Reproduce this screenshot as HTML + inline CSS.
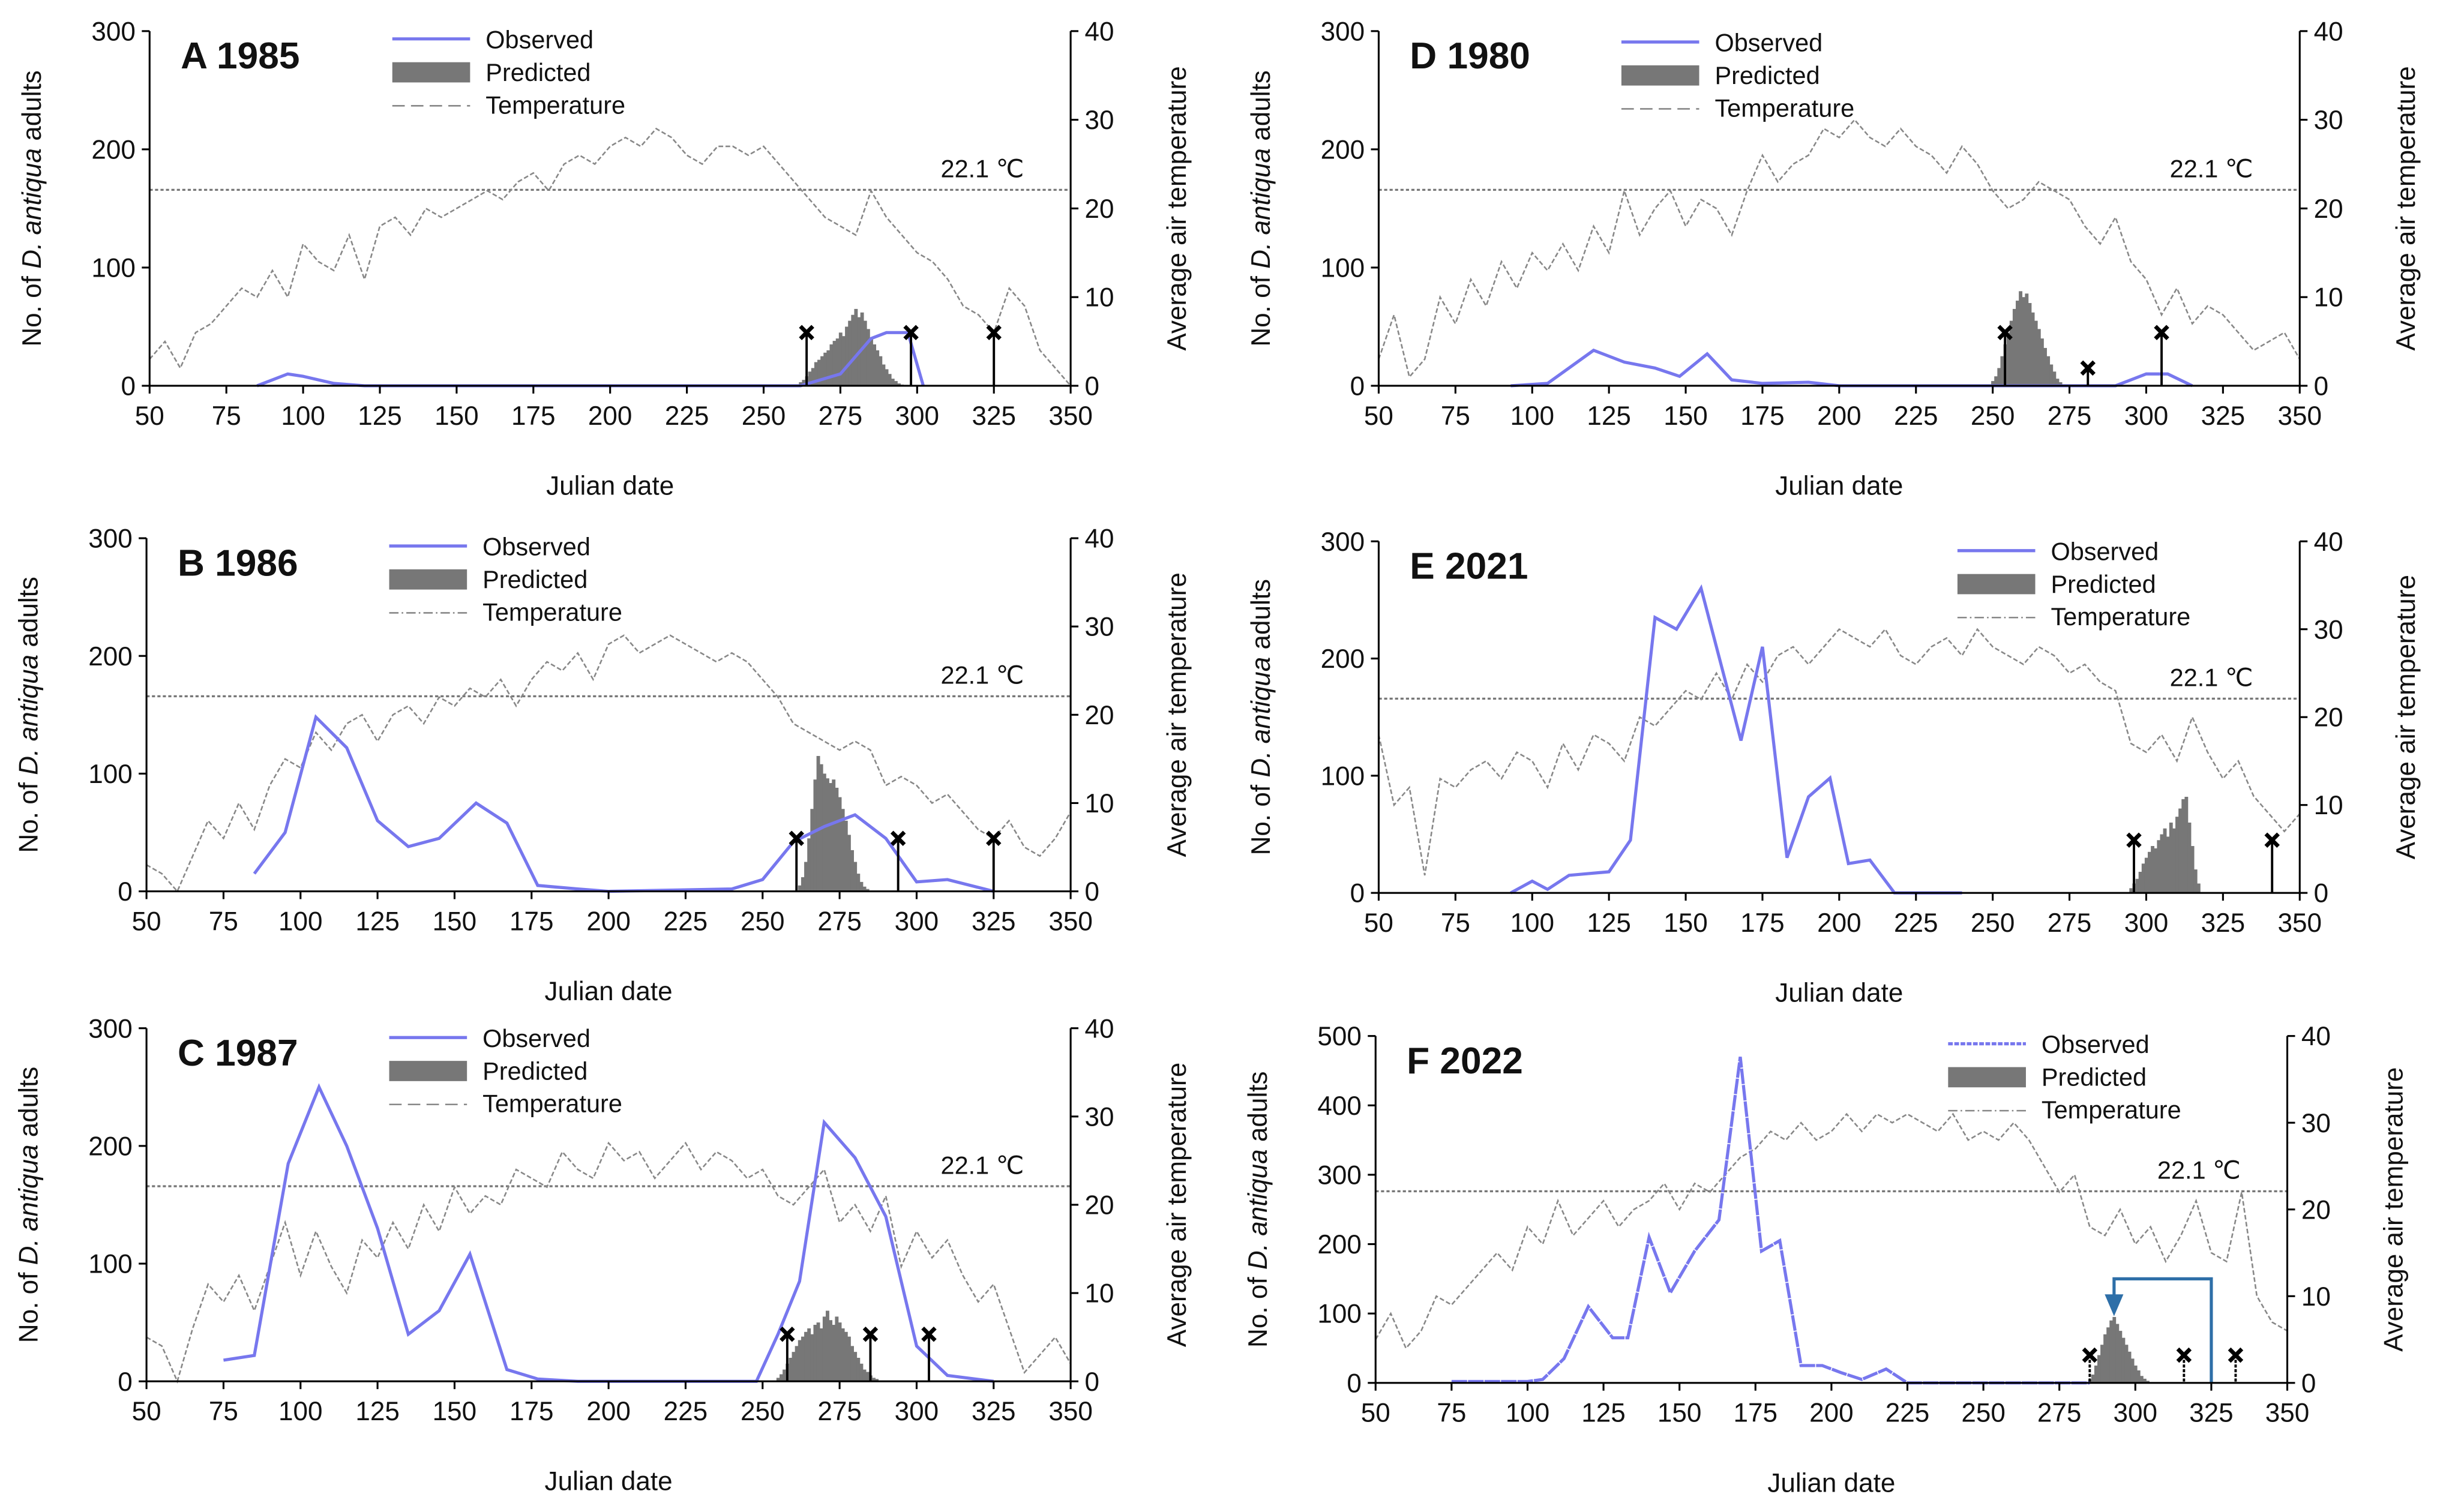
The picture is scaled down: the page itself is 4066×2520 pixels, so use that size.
<!DOCTYPE html>
<html><head><meta charset="utf-8"><style>
html,body{margin:0;padding:0;background:#fff}
svg{display:block}
text{font-family:"Liberation Sans",sans-serif;fill:#111}
</style></head><body>
<svg id="chart" xmlns="http://www.w3.org/2000/svg" width="4066" height="2520" viewBox="0 0 1568 972"></svg>
<script>
// ---------- DATA ----------
const tempDaysStart = 50, tempDayStep = 5;
const tempA = [3,5,2,6,7,9,11,10,13,10,16,14,13,17,12,18,19,17,20,19,20,21,22,21,23,24,22,25,26,25,27,28,27,29,28,26,25,27,27,26,27,25,23,21,19,18,17,22,19,17,15,14,12,9,8,6,11,9,4,2,0];
const tempD = [3,8,1,3,10,7,12,9,14,11,15,13,16,13,18,15,22,17,20,22,18,21,20,17,22,26,23,25,26,29,28,30,28,27,29,27,26,24,27,25,22,20,21,23,22,21,18,16,19,14,12,8,11,7,9,8,6,4,5,6,3];
const tempB = [3,2,0,4,8,6,10,7,12,15,14,18,16,19,20,17,20,21,19,22,21,23,22,24,21,24,26,25,27,24,28,29,27,28,29,28,27,26,27,26,24,22,19,18,17,16,17,16,12,13,12,10,11,9,7,6,8,5,4,6,9];
const tempE = [18,10,12,2,13,12,14,15,13,16,15,12,17,14,18,17,15,20,19,21,23,22,25,22,26,24,27,28,26,28,30,29,28,30,27,26,28,29,27,30,28,27,26,28,27,25,26,24,23,17,16,18,15,20,16,13,15,11,9,7,9];
const tempC = [5,4,0,6,11,9,12,8,13,18,12,17,13,10,16,14,18,15,20,17,22,19,21,20,24,23,22,26,24,23,27,25,26,23,25,27,24,26,25,23,24,21,20,22,24,18,20,17,21,13,17,14,16,12,9,11,6,1,3,5,2];
const tempF = [5,8,4,6,10,9,11,13,15,13,18,16,21,17,19,21,18,20,21,23,20,23,22,24,26,27,29,28,30,28,29,31,29,31,30,31,30,29,31,28,29,28,30,28,25,22,24,18,17,20,16,18,14,17,21,15,14,22,10,7,6];

const obsDaysA = [85,95,100,110,120,200,262,275,285,290,297,302];
const obsA     = [0,10,8,2,0,0,0,10,40,45,45,0];
const obsDaysD = [93,105,120,130,140,148,157,165,175,190,200,290,300,307,315];
const obsD     = [0,2,30,20,15,8,27,5,2,3,0,0,10,10,0];
const obsDaysB = [85,95,105,115,125,135,145,157,167,177,190,200,240,250,260,270,280,290,300,310,325];
const obsB     = [15,50,148,122,60,38,45,75,58,5,2,0,2,10,42,55,65,45,8,10,0];
const obsDaysE = [93,100,105,112,125,132,140,147,155,168,175,183,190,197,203,210,218,240];
const obsE     = [0,10,3,15,18,45,235,225,260,130,210,30,82,98,25,28,0,0];
const obsDaysC = [75,85,96,106,115,125,135,145,155,167,177,190,248,255,262,270,280,290,300,310,325];
const obsC     = [18,22,185,250,200,130,40,60,108,10,2,0,0,40,85,220,190,140,30,5,0];
const obsDaysF = [75,100,105,112,120,128,133,140,147,155,163,170,177,183,190,197,203,210,218,225,285];
const obsF     = [2,2,5,35,110,65,65,210,130,190,235,470,190,205,25,25,15,5,20,0,0];

const predStartA = 262;
const predA = [3,5,8,12,15,20,22,25,28,30,35,38,40,45,42,50,55,60,65,58,62,55,48,40,35,30,25,18,14,10,6,4,2,1];
const predStartD = 250;
const predD = [4,8,15,25,35,45,55,65,72,80,75,78,70,62,55,48,40,32,25,18,12,6,3];
const predStartB = 262;
const predB = [5,12,25,45,70,95,115,108,100,96,92,95,88,80,70,60,48,35,25,15,8,4,2];
const predStartE = 295;
const predE = [4,8,12,18,25,30,35,40,38,45,50,55,48,60,55,65,72,80,82,60,40,20,8];
const predStartC = 255;
const predC = [3,6,10,15,20,25,30,35,38,42,45,40,48,50,45,55,60,52,48,55,50,45,42,38,30,25,20,15,10,8,5,3,2];
const predStartF = 285;
const predF = [5,12,25,40,55,70,80,90,95,85,75,65,55,45,35,25,18,10,6,3];

const markDaysA=[264,298,325], markA=[45,45,45];
const markDaysD=[254,281,305], markD=[45,15,45];
const markDaysB=[261,294,325], markB=[45,45,45];
const markDaysE=[296,341], markE=[45,45];
const markDaysC=[258,285,304], markC=[40,40,40];
const markDaysF=[285,316,333], markF=[40,40,40];

const xTicks=[50,75,100,125,150,175,200,225,250,275,300,325,350];
const yTicks300=[0,100,200,300], yTicks500=[0,100,200,300,400,500];
const rTicks=[0,10,20,30,40];
const threshold=22.1;

// ---------- LAYOUT ----------
const panels=[
 {id:'a',title:'A 1985',x0:96,x1:688,yb:248,yt:20,ymax:300,yt_:yTicks300,temp:tempA,od:obsDaysA,ov:obsA,ps:predStartA,pv:predA,md:markDaysA,mv:markA,lx:252,ly:25,dashTemp:true},
 {id:'d',title:'D 1980',x0:886,x1:1478,yb:248,yt:20,ymax:300,yt_:yTicks300,temp:tempD,od:obsDaysD,ov:obsD,ps:predStartD,pv:predD,md:markDaysD,mv:markD,lx:1042,ly:27,dashTemp:true},
 {id:'b',title:'B 1986',x0:94,x1:688,yb:573,yt:346,ymax:300,yt_:yTicks300,temp:tempB,od:obsDaysB,ov:obsB,ps:predStartB,pv:predB,md:markDaysB,mv:markB,lx:250,ly:351},
 {id:'e',title:'E 2021',x0:886,x1:1478,yb:574,yt:348,ymax:300,yt_:yTicks300,temp:tempE,od:obsDaysE,ov:obsE,ps:predStartE,pv:predE,md:markDaysE,mv:markE,lx:1258,ly:354},
 {id:'c',title:'C 1987',x0:94,x1:688,yb:888,yt:661,ymax:300,yt_:yTicks300,temp:tempC,od:obsDaysC,ov:obsC,ps:predStartC,pv:predC,md:markDaysC,mv:markC,lx:250,ly:667,dashTemp:true},
 {id:'f',title:'F 2022',x0:884,x1:1470,yb:889,yt:666,ymax:500,yt_:yTicks500,temp:tempF,od:obsDaysF,ov:obsF,ps:predStartF,pv:predF,md:markDaysF,mv:markF,lx:1252,ly:671,dotObs:true,bracket:true}
];

const NS='http://www.w3.org/2000/svg';
const svg=document.getElementById('chart');
function mk(tag,attrs,parent){const e=document.createElementNS(NS,tag);for(const k in attrs)e.setAttribute(k,attrs[k]);(parent||svg).appendChild(e);return e;}

panels.forEach(p=>{
 const g=mk('g',{});
 
 
 const X=d=>p.x0+(d-50)/300*(p.x1-p.x0);
 const Y=v=>p.yb-v/p.ymax*(p.yb-p.yt);
 const T=t=>p.yb-t/40*(p.yb-p.yt);
 const th=mk('line',{x1:p.x0,x2:p.x1,y1:T(threshold),y2:T(threshold),stroke:'#777','stroke-width':1.3,'stroke-dasharray':'2,1.5'},g);
 
 
 const tl=mk('text',{x:p.x1-30,y:T(threshold)-8,'font-size':16,'text-anchor':'end'},g);tl.textContent='22.1 ℃';
 
 
 let pts=p.temp.map((t,i)=>X(tempDaysStart+i*tempDayStep)+','+T(t)).join(' ');
 const tp=mk('polyline',{points:pts,fill:'none',stroke:'#888','stroke-width':1,'stroke-dasharray':'3,1.5'},g);
 
 
 const bw=(p.x1-p.x0)/300;
 p.pv.forEach((v,i)=>{
  const r=mk('rect',{x:X(p.ps+i)-bw/2,y:Y(v),width:bw+0.3,height:p.yb-Y(v),fill:'#777'},g);
  
  
 });
 pts=p.od.map((d,i)=>X(d)+','+Y(p.ov[i])).join(' ');
 const ol=mk('polyline',{points:pts,fill:'none',stroke:'#7777ee','stroke-width':2},g);
 if(p.dotObs) ol.setAttribute('stroke-dasharray','10,0.6');
 
 
 p.md.forEach((d,i)=>{
  const x=X(d),y=Y(p.mv[i]);
  const m=mk('g',{},g);
  
  
  mk('line',{x1:x,x2:x,y1:y,y2:p.yb,stroke:'#000','stroke-width':1.5,'stroke-dasharray':p.dotObs?'2,1':'none'},m);
  mk('path',{d:`M${x-4},${y-4}L${x+4},${y+4}M${x+4},${y-4}L${x-4},${y+4}`,stroke:'#000','stroke-width':2.6},m);
 });
 if(p.bracket){
  const xa=X(293),xb=X(325),yy=Y(150);
  const b=mk('path',{d:`M${xb},${p.yb} L${xb},${yy} L${xa},${yy} L${xa},${yy+12}`,fill:'none',stroke:'#2e6fa8','stroke-width':2},g);
  
  
  mk('path',{d:`M${xa-6},${yy+10} L${xa+6},${yy+10} L${xa},${yy+24} Z`,fill:'#2e6fa8'},g);
 }
 mk('path',{d:`M${p.x0},${p.yt} L${p.x0},${p.yb} L${p.x1},${p.yb} L${p.x1},${p.yt}`,fill:'none',stroke:'#000','stroke-width':1.2},g);
 xTicks.forEach(t=>{
  mk('line',{x1:X(t),x2:X(t),y1:p.yb,y2:p.yb+5,stroke:'#000','stroke-width':1.2},g);
  const tx=mk('text',{x:X(t),y:p.yb+25,'font-size':17,'text-anchor':'middle'},g);tx.textContent=t;
  
  
 });
 p.yt_.forEach(t=>{
  mk('line',{x1:p.x0-5,x2:p.x0,y1:Y(t),y2:Y(t),stroke:'#000','stroke-width':1.2},g);
  const tx=mk('text',{x:p.x0-9,y:Y(t)+6,'font-size':17,'text-anchor':'end'},g);tx.textContent=t;
  
  
 });
 rTicks.forEach(t=>{
  mk('line',{x1:p.x1,x2:p.x1+5,y1:T(t),y2:T(t),stroke:'#000','stroke-width':1.2},g);
  const tx=mk('text',{x:p.x1+9,y:T(t)+6,'font-size':17,'text-anchor':'start'},g);tx.textContent=t;
  
  
 });
 const xt=mk('text',{x:(p.x0+p.x1)/2,y:p.yb+70,'font-size':17,'text-anchor':'middle'},g);xt.textContent='Julian date';
 
 
 const cy=(p.yt+p.yb)/2;
 const yl=mk('text',{x:0,y:0,'font-size':17,'text-anchor':'middle',transform:`translate(${p.x0-70},${cy}) rotate(-90)`},g);
 yl.innerHTML='No. of <tspan font-style="italic">D. antiqua</tspan> adults';
 
 
 const rl=mk('text',{x:0,y:0,'font-size':17,'text-anchor':'middle',transform:`translate(${p.x1+74},${cy}) rotate(-90)`},g);
 rl.textContent='Average air temperature';
 
 
 const ti=mk('text',{x:p.x0+20,y:p.yt+24,'font-size':24,'font-weight':'bold'},g);ti.textContent=p.title;
 
 
 const lg=mk('g',{},g);
 
 
 const lx=p.lx,ly=p.ly;
 mk('line',{x1:lx,x2:lx+50,y1:ly,y2:ly,stroke:'#7777ee','stroke-width':2,'stroke-dasharray':p.dotObs?'3,1':'none'},lg);
 mk('rect',{x:lx,y:ly+15,width:50,height:13,fill:'#777'},lg);
 mk('line',{x1:lx,x2:lx+50,y1:ly+43,y2:ly+43,stroke:'#888','stroke-width':1,'stroke-dasharray':p.dashTemp?'8,4':'6,2,1,2'},lg);
 ['Observed','Predicted','Temperature'].forEach((s,i)=>{
  const t=mk('text',{x:lx+60,y:ly+6+i*21,'font-size':16},lg);t.textContent=s;
  
  
 });
});
</script>
</body></html>
